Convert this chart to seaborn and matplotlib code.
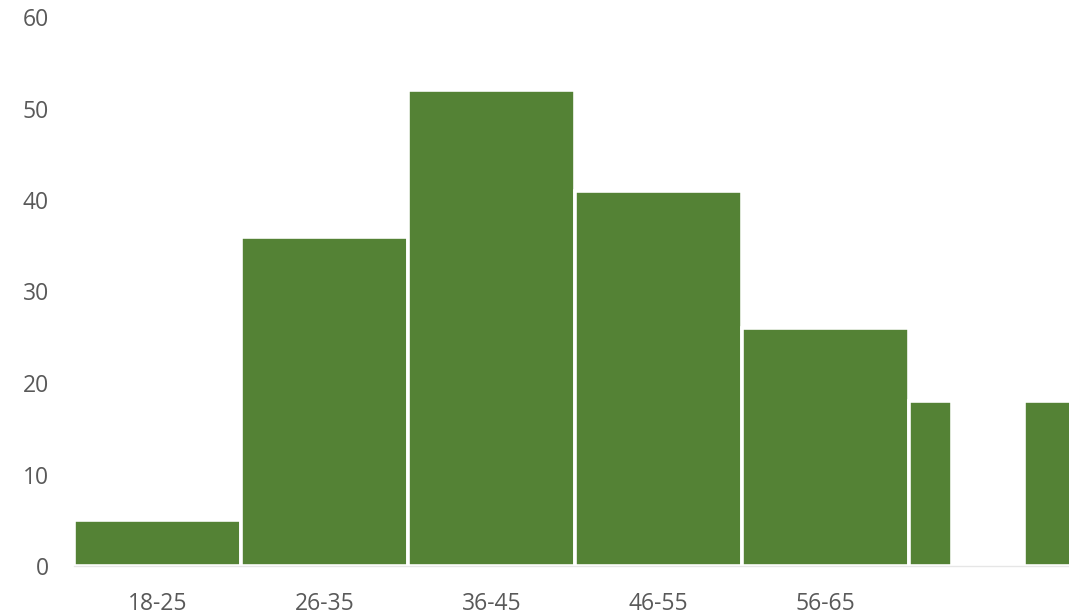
import matplotlib
matplotlib.use("Agg")
import matplotlib.pyplot as plt
import seaborn as sns
import numpy as np

# data
categories = ["18-25", "26-35", "36-45", "46-55", "56-65"]
counts = [5, 36, 52, 41, 26, 18, 0, 18]   # per bin (last bins: 18, gap, 18)
bin_edges = [0, 1, 2, 3, 4, 5, 5.26, 5.69, 6.05]
y_ticks = [0, 10, 20, 30, 40, 50, 60]

sns.set_style("white")
plt.rcParams["font.family"] = ["Open Sans", "DejaVu Sans"]

W, H = 1069, 616
fig = plt.figure(figsize=(W / 100, H / 100), dpi=100)
left_px, bottom_px, top_px = 74, 566, 17
ax = fig.add_axes([left_px / W, (H - bottom_px) / H, 1 - left_px / W, (bottom_px - top_px) / H])

mids = [(a + b) / 2 for a, b in zip(bin_edges[:-1], bin_edges[1:])]
sns.histplot(x=mids, weights=counts, bins=bin_edges, ax=ax,
             color="#548235", alpha=1, edgecolor="white", linewidth=2.6)

ax.set_xlim(0, (W - left_px) / 167.0)
ax.set_ylim(0, 60)
ax.set_yticks(y_ticks)
ax.set_xticks([i + 0.5 for i in range(len(categories))])
ax.set_xticklabels(categories)
ax.set_xlabel("")
ax.set_ylabel("")
ax.tick_params(axis="both", length=0, labelsize=16.5, colors="#595959")
ax.tick_params(axis="y", pad=18)
ax.tick_params(axis="x", pad=19)
for s in ["top", "right", "left"]:
    ax.spines[s].set_visible(False)
ax.spines["bottom"].set_color("#E6E6E6")
ax.spines["bottom"].set_linewidth(1)
ax.grid(False)

fig.savefig("out.png", dpi=100)
